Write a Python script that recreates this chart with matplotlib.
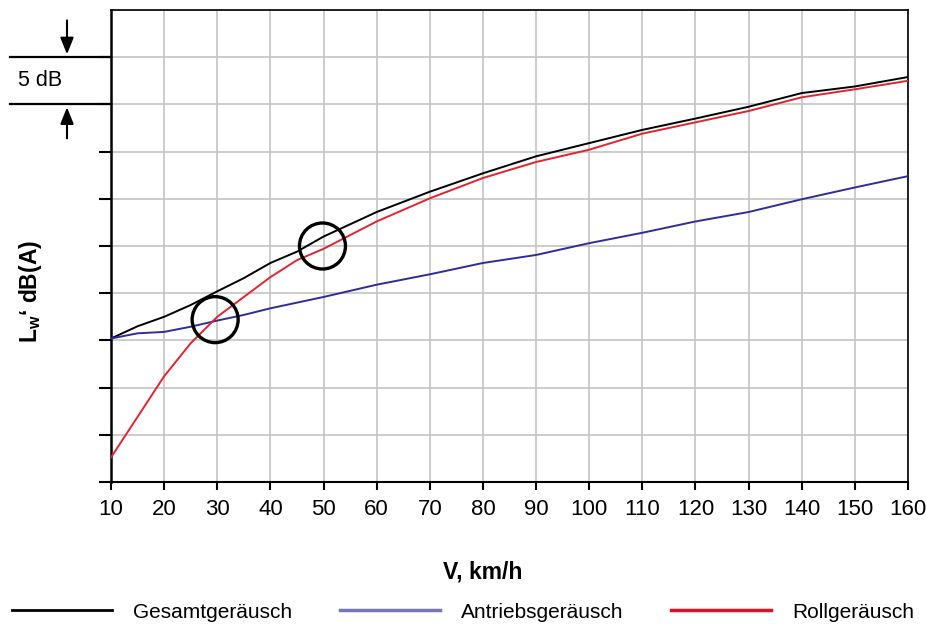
import matplotlib
matplotlib.use("Agg")
import matplotlib.pyplot as plt
from matplotlib.patches import Ellipse
from matplotlib.lines import Line2D
import matplotlib.transforms as mtransforms

plt.rcParams['font.family'] = ['Liberation Sans', 'DejaVu Sans']
plt.rcParams['mathtext.fontset'] = 'custom'
plt.rcParams['mathtext.rm'] = 'Liberation Sans'
plt.rcParams['mathtext.bf'] = 'Liberation Sans:bold'

v = [10, 15, 20, 25, 30, 35, 40, 45, 50, 60, 70, 80, 90, 100, 110, 120, 130, 140, 150, 160]
gesamt = [15.2, 16.5, 17.5, 18.75, 20.2, 21.6, 23.2, 24.4, 26.0, 28.6, 30.75, 32.7, 34.5,
          35.9, 37.3, 38.5, 39.75, 41.2, 41.9, 42.9]
antrieb = [15.2, 15.75, 15.9, 16.45, 17.1, 17.7, 18.4, 19.0, 19.6, 20.9, 22.0, 23.2, 24.05,
           25.3, 26.4, 27.6, 28.6, 29.95, 31.2, 32.4]
roll = [2.6, 6.9, 11.2, 14.7, 17.5, 19.6, 21.7, 23.5, 24.7, 27.6, 30.05, 32.2, 33.9,
        35.2, 36.9, 38.1, 39.3, 40.75, 41.6, 42.5]

xticks = list(range(10, 161, 10))
yticks = list(range(0, 46, 5))
# Kreise (Schnittpunkte)
kreise = [(29.6, 17.2), (49.8, 25.0)]

fig = plt.figure(figsize=(9.26, 6.29), dpi=100)
ax = fig.add_axes([111/926, 1-482/629, 797/926, 472/629])

ax.plot(v, gesamt, color='black', lw=1.4, zorder=3)
ax.plot(v, antrieb, color='#2e2e9a', lw=1.4, zorder=3)
ax.plot(v, roll, color='#e02530', lw=1.4, zorder=3)

for cx, cy in kreise:
    ax.add_patch(Ellipse((cx, cy), 46/5.313, 46/9.44, fill=False, lw=2.4,
                         ec='black', zorder=4))

ax.set_xlim(10, 160)
ax.set_ylim(0, 50)
ax.set_xticks(xticks)
ax.set_yticks(yticks)
ax.set_yticklabels([])
ax.set_yticks([50], minor=True)
ax.grid(True, color='#c4c4c4', lw=1.2)
ax.grid(True, which='minor', color='#c4c4c4', lw=1.2)
ax.set_axisbelow(True)
ax.tick_params(axis='x', length=6, width=1.5, direction='out', labelsize=16, pad=6)
ax.tick_params(axis='y', length=9, width=1.5, direction='out')
ax.tick_params(axis='y', which='minor', length=0)
for s in ax.spines.values():
    s.set_linewidth(1.2)
ax.spines['left'].set_linewidth(1.8)
ax.spines['bottom'].set_linewidth(1.5)

# 5 dB Massstab
trans = mtransforms.blended_transform_factory(ax.transAxes, ax.transData)
for yy in (45, 40):
    ax.plot([-0.1267, 0], [yy, yy], color='black', lw=1.6, transform=trans, clip_on=False)
ax.annotate('', xy=(-0.0552, 45.3), xytext=(-0.0552, 48.9), xycoords=trans,
            textcoords=trans, annotation_clip=False,
            arrowprops=dict(arrowstyle='-|>,head_length=1.0,head_width=0.4',
                            color='black', lw=1.5, shrinkA=0, shrinkB=0))
ax.annotate('', xy=(-0.0552, 39.7), xytext=(-0.0552, 36.4), xycoords=trans,
            textcoords=trans, annotation_clip=False,
            arrowprops=dict(arrowstyle='-|>,head_length=1.0,head_width=0.4',
                            color='black', lw=1.5, shrinkA=0, shrinkB=0))
ax.text(-0.117, 42.5, '5 dB', transform=trans, fontsize=15.5, ha='left', va='center')

ax.set_xlabel('V, km/h', fontsize=16.5, fontweight='bold')
ax.xaxis.set_label_coords((483-111)/797, -79/472)
fig.text(30/926, 1-291/629, r"$\mathbf{L_w}$‘ dB(A)", rotation=90, fontsize=16.5,
         fontweight='bold', ha='center', va='center')

handles = [Line2D([], [], color='black', lw=2),
           Line2D([], [], color='#7676b8', lw=2.5),
           Line2D([], [], color='#e0102a', lw=2.5)]
fig.legend(handles, ['Gesamtgeräusch', 'Antriebsgeräusch', 'Rollgeräusch'],
           loc='center', bbox_to_anchor=(0.5, 1-612/629), ncol=3, frameon=False,
           fontsize=15, handlelength=4.8, handletextpad=1.0, columnspacing=2.3,
           borderpad=0, borderaxespad=0)

fig.savefig('out.png', dpi=100)
